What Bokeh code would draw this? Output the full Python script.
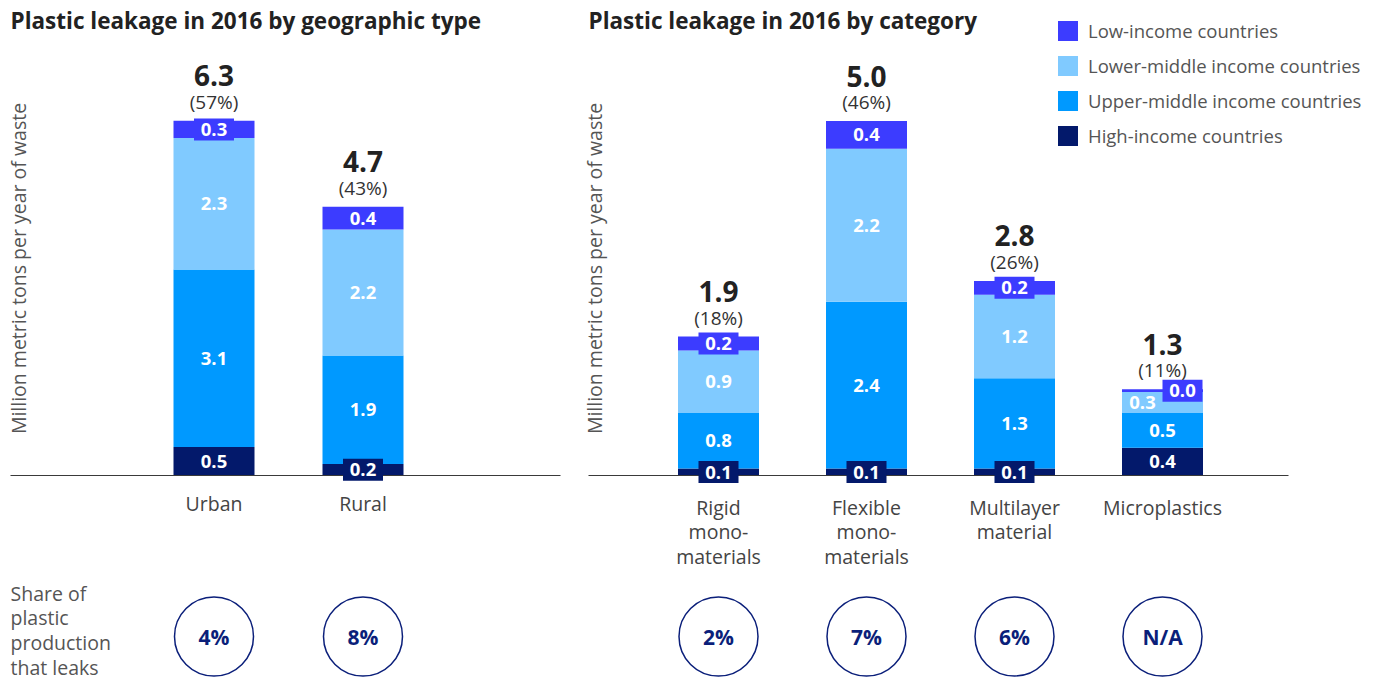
import math
from bokeh.plotting import figure
from bokeh.models import ColumnDataSource, Range1d, Legend, LegendItem
from bokeh.layouts import row
from bokeh.core.properties import value
from bokeh.embed import file_html
from bokeh.resources import INLINE

FONT = "Open Sans"

# ---------------- data ----------------
segments = ["High-income countries", "Upper-middle income countries",
            "Lower-middle income countries", "Low-income countries"]

geo_categories = ["Urban", "Rural"]
geo_high = [0.5, 0.2]
geo_upper = [3.1, 1.9]
geo_lower = [2.3, 2.2]
geo_low = [0.3, 0.4]
geo_totals = [6.3, 4.7]
geo_pct = [57, 43]
geo_leak = ["4%", "8%"]

cat_categories = ["Rigid\nmono-\nmaterials", "Flexible\nmono-\nmaterials",
                  "Multilayer\nmaterial", "Microplastics"]
cat_high = [0.1, 0.1, 0.1, 0.4]
cat_upper = [0.8, 2.4, 1.3, 0.5]
cat_lower = [0.9, 2.2, 1.2, 0.3]
cat_low = [0.2, 0.4, 0.2, 0.04]
cat_totals = [1.9, 5.0, 2.8, 1.3]
cat_pct = [18, 46, 26, 11]
cat_leak = ["2%", "7%", "6%", "N/A"]

COLORS = ["#03196b", "#0099ff", "#80caff", "#3c3cff"]
NAVY = "#0b1f7a"
DARK = "#222222"
GREY = "#555555"

H = 690
BASE = 475  # baseline position, px from top of figure
LH = 0.915  # multi-line text line height factor


def make_panel(width, cats, stacks, totals, pcts, leak, scale, x0px, step,
               title, title_x, ylab_x, line_x0, line_x1, cat_top, nudges,
               legend_xy=None, share_text=None):
    n = len(cats)
    xs = list(range(n))
    xs0 = -x0px / step
    xs1 = xs0 + width / step
    ys0 = -(H - BASE) / scale
    ys1 = BASE / scale
    p = figure(width=width, height=H, x_range=Range1d(xs0, xs1),
               y_range=Range1d(ys0, ys1), output_backend="svg",
               toolbar_location=None, min_border=0, x_axis_location=None,
               y_axis_location=None, outline_line_color=None,
               background_fill_color="white", border_fill_color="white")
    p.grid.visible = False

    def px(v):
        return xs0 + v / step

    def py(v):
        return (BASE - v) / scale

    bw = 81 / step
    data = dict(x=xs)
    for s, vals in zip(segments, stacks):
        data[s] = vals
    src = ColumnDataSource(data)
    rends = p.vbar_stack(segments, x="x", width=bw, color=COLORS,
                         line_color=None, source=src)

    # baseline
    p.segment(x0=[px(line_x0)], y0=[0], x1=[px(line_x1)], y1=[0],
              line_color="#3a3a3a", line_width=1.2)

    # segment labels
    lx, ly, lt, bx, by, bc = [], [], [], [], [], []
    for i in range(n):
        bottom = 0.0
        for k, vals in enumerate(stacks):
            v = vals[i]
            mid = bottom + v / 2
            nd = nudges.get((i, k), 0)
            lx.append(i + nd / step)
            ly.append(mid)
            lt.append(f"{v:.1f}")
            if (v * scale < 20 and nd == 0) or nd > 0:
                bx.append(i + nd / step)
                by.append(mid)
                bc.append(COLORS[k])
            bottom += v
    p.rect(x=bx, y=by, width=[40] * len(bx), height=[22] * len(bx),
           width_units="screen", height_units="screen",
           fill_color=bc, line_color=None)
    p.text(x=lx, y=ly, text=lt, text_color="white", text_font=value(FONT),
           text_font_style="bold", text_font_size="18.5px",
           text_align="center", text_baseline="middle")

    # totals
    tops = [sum(vals[i] for vals in stacks) for i in range(n)]
    p.text(x=xs, y=[t + 45 / scale for t in tops],
           text=[f"{t:.1f}" for t in totals], text_color=DARK,
           text_font=value(FONT), text_font_style="bold",
           text_font_size="28px", text_align="center",
           text_baseline="alphabetic")
    p.text(x=xs, y=[t + 19 / scale for t in tops],
           text=[f"({q}%)" for q in pcts], text_color="#333333",
           text_font=value(FONT), text_font_size="19px", text_align="center",
           text_baseline="alphabetic")

    # category labels
    p.text(x=xs, y=[py(cat_top)] * n, text=cats, text_color="#444444",
           text_font=value(FONT), text_font_size="19.5px",
           text_align="center", text_baseline="top", text_line_height=LH)

    # share circles
    p.scatter(x=xs, y=[py(636)] * n, marker="circle", size=79,
              fill_color="white", line_color=NAVY, line_width=1.5)
    p.text(x=xs, y=[py(636)] * n, text=leak, text_color=NAVY,
           text_font=value(FONT), text_font_style="bold",
           text_font_size="21px", text_align="center", text_baseline="middle")

    # title
    p.text(x=[px(title_x)], y=[py(20)], text=[title], text_color=DARK,
           text_font=value(FONT), text_font_style="bold",
           text_font_size="22.5px", text_align="left",
           text_baseline="alphabetic")

    # y label
    p.text(x=[px(ylab_x)], y=[py(268)],
           text=["Million metric tons per year of waste"], angle=math.pi / 2,
           text_color=GREY, text_font=value(FONT), text_font_size="19.5px",
           text_align="center", text_baseline="middle")

    if share_text:
        p.text(x=[px(10)], y=[py(579)], text=[share_text], text_color=GREY,
               text_font=value(FONT), text_font_size="19.5px",
               text_align="left", text_baseline="top", text_line_height=LH)

    if legend_xy:
        items = [LegendItem(label=segments[k], renderers=[rends[k]])
                 for k in reversed(range(len(segments)))]
        leg = Legend(items=items, location=legend_xy, glyph_width=25,
                     glyph_height=25, label_height=25, spacing=10, padding=0,
                     margin=0, label_standoff=8, border_line_color=None,
                     background_fill_alpha=0, label_text_font=FONT,
                     label_text_font_size="18.5px", label_text_color=GREY)
        p.add_layout(leg)
    return p


p1 = make_panel(578, geo_categories, [geo_high, geo_upper, geo_lower, geo_low],
                geo_totals, geo_pct, geo_leak, 57.2, 213.5, 149,
                "Plastic leakage in 2016 by geographic type", 10, 18, 10, 560,
                489, {}, share_text="Share of\nplastic\nproduction\nthat leaks")

p2 = make_panel(795, cat_categories, [cat_high, cat_upper, cat_lower, cat_low],
                cat_totals, cat_pct, cat_leak, 69.5, 140, 148,
                "Plastic leakage in 2016 by category", 10, 16, 10, 710,
                493, {(3, 3): 20, (3, 2): -20}, legend_xy=(477, H - 148))

layout = row(p1, p2, spacing=0)
open("out.html", "w").write(file_html(layout, INLINE))
